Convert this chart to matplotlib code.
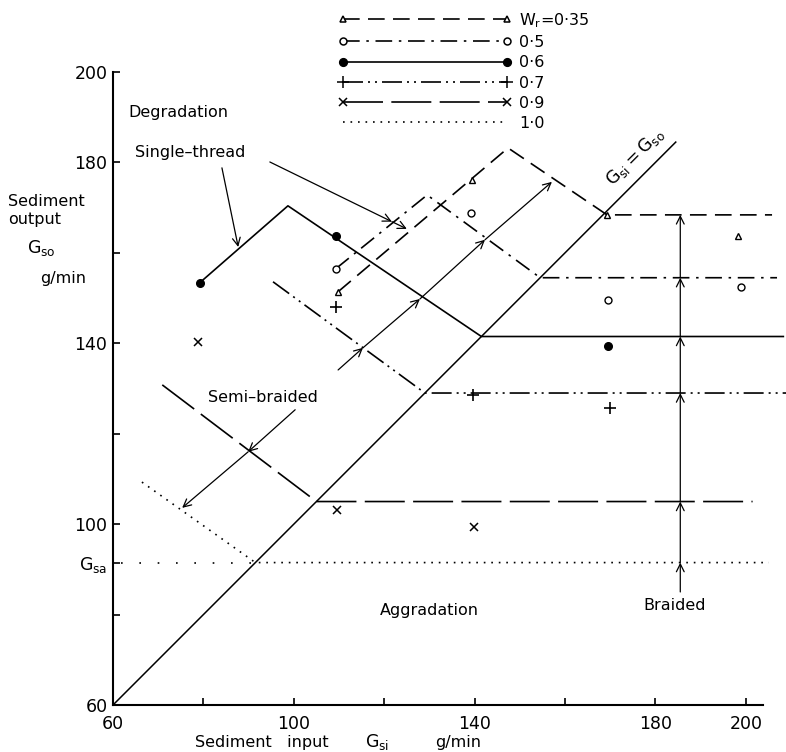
#!/usr/bin/env python3

import matplotlib
matplotlib.use("Agg")
import matplotlib.pyplot as plt
from matplotlib.lines import Line2D


# axis ticks
GSI_TICKS = [60, 100, 140, 180, 200]
GSI_MINOR = [80, 120, 160]
GSO_TICKS = [60, 100, 140, 180, 200]
GSO_MINOR = [80, 120, 160]
GSA = 91.5

WR_LABELS = ["$\\mathrm{W_r}$=0·35", "0·5", "0·6", "0·7", "0·9", "1·0"]

# regime boundaries, one per Wr (Gsi, Gso in g/min)
WR035_X = [109.8, 147.4, 169.3, 205.8]
WR035_Y = [151.4, 183.2, 168.4, 168.4]
WR05_X = [109.3, 129.5, 154.5, 206.9]
WR05_Y = [156.5, 172.8, 154.5, 154.5]
WR06_X = [79.2, 98.7, 141.5, 208.3]
WR06_Y = [153.4, 170.4, 141.5, 141.5]
WR07_X = [95.4, 129.0, 209.0]
WR07_Y = [153.6, 129.0, 129.0]
WR09_X = [70.9, 105.0, 201.5]
WR09_Y = [130.8, 105.0, 105.0]
WR10_X = [66.4, 91.5, 205.1]
WR10_Y = [109.3, 91.5, 91.5]
GSA_X = [61.8, 91.5]

EQUAL_LINE = [60, 184.5]

# measured points
TRI_X = [109.8, 139.4, 169.3, 198.3]
TRI_Y = [151.4, 176.2, 168.4, 163.8]
CIRC_X = [109.3, 139.2, 169.5, 198.9]
CIRC_Y = [156.5, 168.8, 149.6, 152.5]
DOT_X = [79.2, 109.3, 169.5]
DOT_Y = [153.4, 163.8, 139.4]
PLUS_X = [109.3, 139.6, 170.0]
PLUS_Y = [148.1, 128.6, 125.7]
CROSS_X = [78.8, 109.6, 139.9]
CROSS_Y = [140.3, 103.1, 99.4]

# arrow paths (each point after the first gets an arrowhead)
THREAD_A = [(84.1, 178.8), (87.7, 161.3)]
THREAD_B = [(94.7, 180.1), (121.7, 166.9), (125.0, 165.3)]
SEMI = [(100.3, 125.3), (89.9, 116.0), (75.3, 103.6)]
SHIFT = [(109.8, 134.1), (115.3, 139.0), (127.9, 149.8), (142.3, 162.9), (157.1, 175.7)]
BRAID_X = 185.5
BRAID_Y = [85.0, 91.5, 105.0, 129.0, 141.5, 154.5, 168.4]


def arrow_chain(ax, pts):
    for (x0, y0), (x1, y1) in zip(pts[:-1], pts[1:]):
        ax.annotate("", xy=(x1, y1), xytext=(x0, y0),
                    arrowprops=dict(arrowstyle="->", lw=0.9, color="k",
                                    shrinkA=0, shrinkB=0, mutation_scale=14))


def main():
    plt.rcParams["font.family"] = ["DejaVu Sans"]
    plt.rcParams["mathtext.fontset"] = "dejavusans"
    plt.rcParams["font.size"] = 11.5

    fig = plt.figure(figsize=(7.86, 7.52), dpi=100)
    ax = fig.add_axes([113 / 786, 47 / 752, 650 / 786, 633 / 752])
    ax.set_xlim(60, 203.8)
    ax.set_ylim(60, 200)

    for s in ["top", "right"]:
        ax.spines[s].set_visible(False)
    for s in ["left", "bottom"]:
        ax.spines[s].set_linewidth(1.5)

    ax.set_xticks(GSI_TICKS)
    ax.set_xticks(GSI_MINOR, minor=True)
    ax.set_yticks(GSO_TICKS + [GSA])
    ax.set_yticklabels([str(v) for v in GSO_TICKS] + ["$\\mathrm{G_{sa}}$"])
    ax.set_yticks(GSO_MINOR, minor=True)
    ax.tick_params(which="both", direction="in", length=5, width=1.2,
                   labelsize=12.5)
    ax.tick_params(axis="x", pad=7)
    ax.tick_params(axis="y", pad=4)

    k = dict(color="k", lw=1.2, clip_on=False)
    ax.plot(EQUAL_LINE, EQUAL_LINE, color="k", lw=1.1)
    ax.plot(WR035_X, WR035_Y, ls=(0, (10, 5)), **k)
    ax.plot(WR05_X, WR05_Y, ls=(0, (10, 4, 1.5, 4)), **k)
    ax.plot(WR06_X, WR06_Y, ls="-", **k)
    ax.plot(WR07_X, WR07_Y, ls=(0, (12, 3, 1.2, 3, 1.2, 3)), **k)
    ax.plot(WR09_X, WR09_Y, ls=(0, (24, 5)), **k)
    ax.plot(WR10_X, WR10_Y, ls=(0, (1, 3.5)), **k)
    ax.plot(GSA_X, [GSA, GSA], ls=(0, (1, 10)), **k)

    mk = dict(ls="none", color="k")
    ax.plot(TRI_X, TRI_Y, marker="^", ms=5, mfc="white", mew=1, **mk)
    ax.plot(CIRC_X, CIRC_Y, marker="o", ms=5, mfc="white", mew=1, **mk)
    ax.plot(DOT_X, DOT_Y, marker="o", ms=5.5, **mk)
    ax.plot(PLUS_X, PLUS_Y, marker="+", ms=9, mew=1.2, **mk)
    ax.plot(CROSS_X, CROSS_Y, marker="x", ms=6, mew=1.1, **mk)

    arrow_chain(ax, THREAD_A)
    arrow_chain(ax, THREAD_B)
    arrow_chain(ax, SEMI)
    arrow_chain(ax, SHIFT)
    arrow_chain(ax, [(BRAID_X, y) for y in BRAID_Y])

    ax.text(63.3, 191, "Degradation", ha="left", va="center")
    ax.text(64.9, 182.1, "Single\u2013thread", ha="left", va="center")
    ax.text(81.0, 127.9, "Semi\u2013braided", ha="left", va="center")
    ax.text(119.1, 81.0, "Aggradation", ha="left", va="center")
    ax.text(184.3, 82.1, "Braided", ha="center", va="center")
    ax.text(175.5, 181.2, "$\\mathrm{G_{si} = G_{so}}$", rotation=45,
            ha="center", va="center", rotation_mode="anchor", fontsize=12.5)

    fig.text(8 / 786, 1 - 202 / 752, "Sediment", ha="left", va="center")
    fig.text(8 / 786, 1 - 219 / 752, "output", ha="left", va="center")
    fig.text(27 / 786, 1 - 248 / 752, "$\\mathrm{G_{so}}$", ha="left",
             va="center", fontsize=12.5)
    fig.text(40 / 786, 1 - 278 / 752, "g/min", ha="left", va="center")
    fig.text(195 / 786, 1 - 742 / 752, "Sediment   input", ha="left",
             va="center")
    fig.text(365 / 786, 1 - 742 / 752, "$\\mathrm{G_{si}}$", ha="left",
             va="center", fontsize=12.5)
    fig.text(435 / 786, 1 - 743 / 752, "g/min", ha="left", va="center")

    # legend
    styles = [(0, (10, 5)), (0, (10, 4, 1.5, 4)), "-",
              (0, (12, 3, 1.2, 3, 1.2, 3)), (0, (24, 5)), (0, (1, 3.5))]
    markers = [("^", "white", 5), ("o", "white", 5), ("o", "k", 5.5),
               ("+", "k", 9), ("x", "k", 6), ("", "k", 0)]
    handles = []
    for st, (m, fc, ms) in zip(styles, markers):
        handles.append(Line2D([], [], color="k", lw=1.2, ls=st, marker=m,
                              mfc=fc, ms=ms, mew=1.1))
    fig.legend(handles, WR_LABELS, loc="upper left",
               bbox_to_anchor=(338 / 786, 1 - 11 / 752), frameon=False,
               numpoints=2, handlelength=10.9, handletextpad=0.45,
               borderpad=0, borderaxespad=0, labelspacing=0.33,
               fontsize=11.5)

    fig.savefig("out.png", dpi=100)


if __name__ == "__main__":
    main()
